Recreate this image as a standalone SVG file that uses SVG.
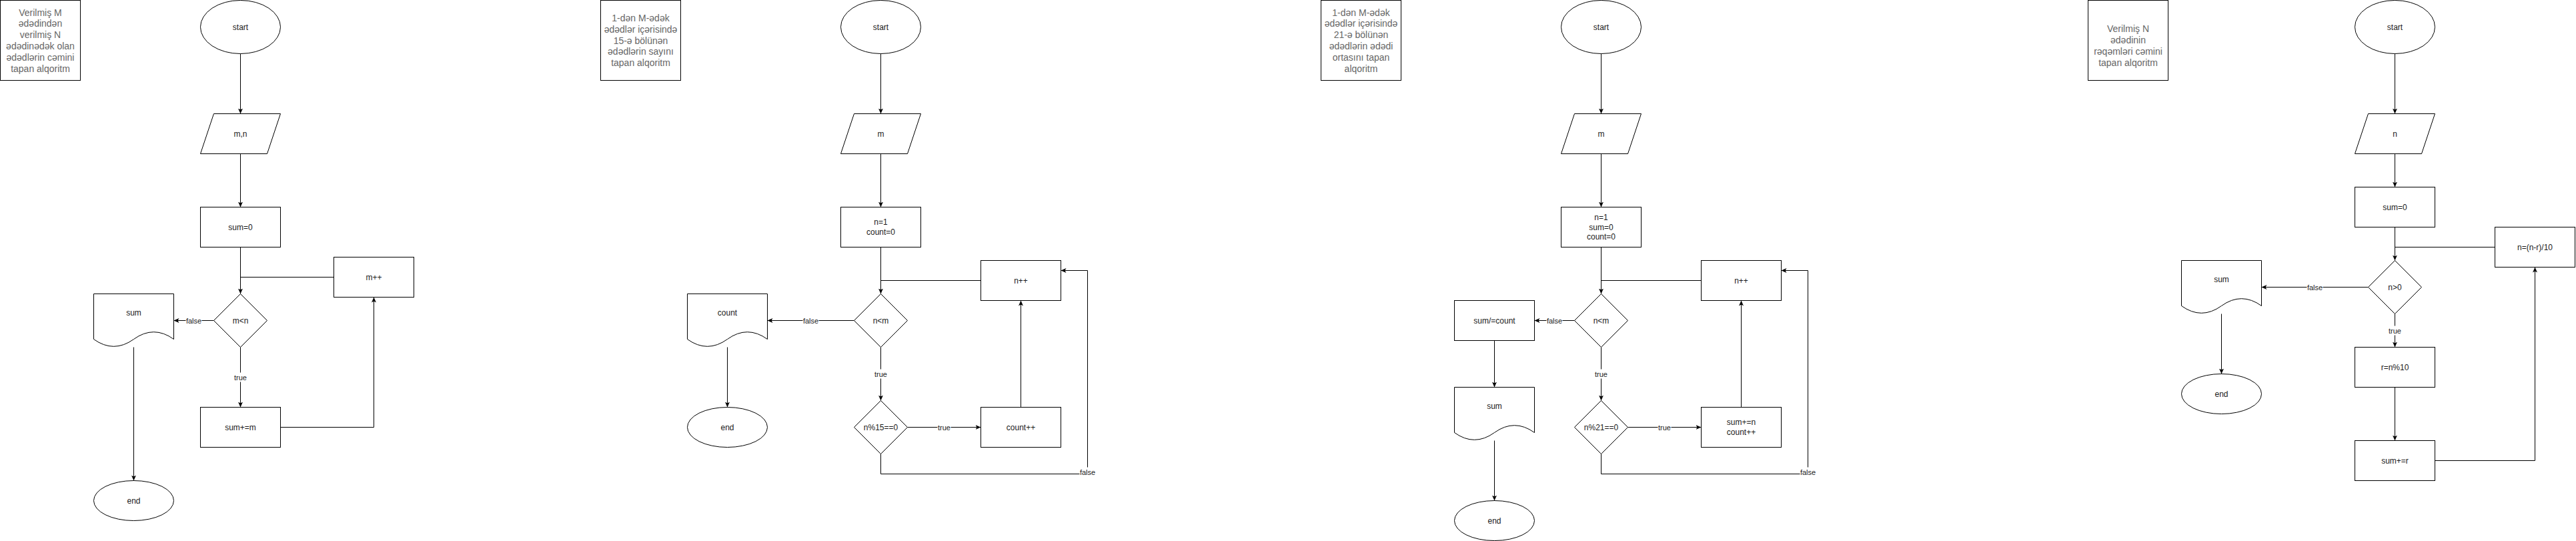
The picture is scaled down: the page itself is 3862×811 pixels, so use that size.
<svg xmlns="http://www.w3.org/2000/svg" width="3862" height="811" viewBox="0 0 3862 811">
<style>
.s{fill:#fff;stroke:#000;stroke-width:1}
.t{font-family:"Liberation Sans",Arial,sans-serif;font-size:12px;fill:#1a1a1a;text-anchor:middle;dominant-baseline:central}
.h{font-family:"Liberation Sans",Arial,sans-serif;font-size:14px;fill:#666;text-anchor:middle;dominant-baseline:central}
.c{fill:none;stroke:#000;stroke-width:1}
.a{marker-end:url(#ar)}
.lb{fill:#fff;stroke:none}
.l{font-family:"Liberation Sans",Arial,sans-serif;font-size:11px;fill:#1a1a1a;text-anchor:middle;dominant-baseline:central}
</style>
<defs>
<marker id="ar" markerUnits="userSpaceOnUse" viewBox="0 0 8 8" refX="8" refY="4" markerWidth="8" markerHeight="8" orient="auto">
<path d="M0,0.5 L8,4 L0,7.5 L2,4 Z" fill="#000"/>
</marker>
</defs>
<rect width="3862" height="811" fill="#fff"/>
<g transform="translate(0.5,0.5)">
<!-- Diagram 1 -->
<g id="title1"><rect class="s" x="0" y="0" width="120" height="120"/>
<text class="h" x="60" y="18">Verilmiş M</text><text class="h" x="60" y="34.8">ədədindən</text><text class="h" x="60" y="51.6">verilmiş N</text><text class="h" x="60" y="68.4">ədədinədək olan</text><text class="h" x="60" y="85.2">ədədlərin cəmini</text><text class="h" x="60" y="102">tapan alqoritm</text></g>
<g id="start1"><ellipse class="s" cx="360" cy="40" rx="60" ry="40"/><text class="t" x="360" y="40">start</text></g>
<g id="in1"><polygon class="s" points="320,170 420,170 400,230 300,230"/><text class="t" x="360" y="200">m,n</text></g>
<g id="init1"><rect class="s" x="300" y="310" width="120" height="60"/><text class="t" x="360" y="340">sum=0</text></g>
<g id="cond1"><polygon class="s" points="360,440 400,480 360,520 320,480"/><text class="t" x="360" y="480">m&lt;n</text></g>
<g id="inc1"><rect class="s" x="500" y="385" width="120" height="60"/><text class="t" x="560" y="415">m++</text></g>
<g id="out1"><path class="s" d="M140,440 H260 V508 Q230,486.4 200,508 Q170,529.6 140,508 Z"/><text class="t" x="200" y="468">sum</text></g>
<g id="body1"><rect class="s" x="300" y="610" width="120" height="60"/><text class="t" x="360" y="640">sum+=m</text></g>
<g id="end1"><ellipse class="s" cx="200" cy="750" rx="60" ry="30"/><text class="t" x="200" y="750">end</text></g>

<!-- Diagram 2 -->
<g id="title2"><rect class="s" x="900" y="0" width="120" height="120"/>
<text class="h" x="960" y="26.4">1-dən M-ədək</text><text class="h" x="960" y="43.2">ədədlər içərisində</text><text class="h" x="960" y="60">15-ə bölünən</text><text class="h" x="960" y="76.8">ədədlərin sayını</text><text class="h" x="960" y="93.6">tapan alqoritm</text></g>
<g id="start2"><ellipse class="s" cx="1320" cy="40" rx="60" ry="40"/><text class="t" x="1320" y="40">start</text></g>
<g id="in2"><polygon class="s" points="1280,170 1380,170 1360,230 1260,230"/><text class="t" x="1320" y="200">m</text></g>
<g id="init2"><rect class="s" x="1260" y="310" width="120" height="60"/><text class="t" x="1320" y="332.5">n=1</text><text class="t" x="1320" y="347.5">count=0</text></g>
<g id="cond2"><polygon class="s" points="1320,440 1360,480 1320,520 1280,480"/><text class="t" x="1320" y="480">n&lt;m</text></g>
<g id="inc2"><rect class="s" x="1470" y="390" width="120" height="60"/><text class="t" x="1530" y="420">n++</text></g>
<g id="out2"><path class="s" d="M1030,440 H1150 V508 Q1120,486.4 1090,508 Q1060,529.6 1030,508 Z"/><text class="t" x="1090" y="468">count</text></g>
<g id="end2"><ellipse class="s" cx="1090" cy="640" rx="60" ry="30"/><text class="t" x="1090" y="640">end</text></g>
<g id="cond2b"><polygon class="s" points="1320,600 1360,640 1320,680 1280,640"/><text class="t" x="1320" y="640">n%15==0</text></g>
<g id="body2"><rect class="s" x="1470" y="610" width="120" height="60"/><text class="t" x="1530" y="640">count++</text></g>

<!-- Diagram 3 -->
<g id="title3"><rect class="s" x="1980" y="0" width="120" height="120"/>
<text class="h" x="2040" y="18">1-dən M-ədək</text><text class="h" x="2040" y="34.8">ədədlər içərisində</text><text class="h" x="2040" y="51.6">21-ə bölünən</text><text class="h" x="2040" y="68.4">ədədlərin ədədi</text><text class="h" x="2040" y="85.2">ortasını tapan</text><text class="h" x="2040" y="102">alqoritm</text></g>
<g id="start3"><ellipse class="s" cx="2400" cy="40" rx="60" ry="40"/><text class="t" x="2400" y="40">start</text></g>
<g id="in3"><polygon class="s" points="2360,170 2460,170 2440,230 2340,230"/><text class="t" x="2400" y="200">m</text></g>
<g id="init3"><rect class="s" x="2340" y="310" width="120" height="60"/><text class="t" x="2400" y="325.3">n=1</text><text class="t" x="2400" y="340">sum=0</text><text class="t" x="2400" y="354.7">count=0</text></g>
<g id="cond3"><polygon class="s" points="2400,440 2440,480 2400,520 2360,480"/><text class="t" x="2400" y="480">n&lt;m</text></g>
<g id="inc3"><rect class="s" x="2550" y="390" width="120" height="60"/><text class="t" x="2610" y="420">n++</text></g>
<g id="calc3"><rect class="s" x="2180" y="450" width="120" height="60"/><text class="t" x="2240" y="480">sum/=count</text></g>
<g id="out3"><path class="s" d="M2180,580 H2300 V648 Q2270,626.4 2240,648 Q2210,669.6 2180,648 Z"/><text class="t" x="2240" y="608">sum</text></g>
<g id="end3"><ellipse class="s" cx="2240" cy="780" rx="60" ry="30"/><text class="t" x="2240" y="780">end</text></g>
<g id="cond3b"><polygon class="s" points="2400,600 2440,640 2400,680 2360,640"/><text class="t" x="2400" y="640">n%21==0</text></g>
<g id="body3"><rect class="s" x="2550" y="610" width="120" height="60"/><text class="t" x="2610" y="632.5">sum+=n</text><text class="t" x="2610" y="647.5">count++</text></g>

<!-- Diagram 4 -->
<g id="title4"><rect class="s" x="3130" y="0" width="120" height="120"/>
<text class="h" x="3190" y="42.8">Verilmiş N</text><text class="h" x="3190" y="59.6">ədədinin</text><text class="h" x="3190" y="76.4">rəqəmləri cəmini</text><text class="h" x="3190" y="93.2">tapan alqoritm</text></g>
<g id="start4"><ellipse class="s" cx="3590" cy="40" rx="60" ry="40"/><text class="t" x="3590" y="40">start</text></g>
<g id="in4"><polygon class="s" points="3550,170 3650,170 3630,230 3530,230"/><text class="t" x="3590" y="200">n</text></g>
<g id="init4"><rect class="s" x="3530" y="280" width="120" height="60"/><text class="t" x="3590" y="310">sum=0</text></g>
<g id="cond4"><polygon class="s" points="3590,390 3630,430 3590,470 3550,430"/><text class="t" x="3590" y="430">n&gt;0</text></g>
<g id="upd4"><rect class="s" x="3740" y="340" width="120" height="60"/><text class="t" x="3800" y="370">n=(n-r)/10</text></g>
<g id="out4"><path class="s" d="M3270,390 H3390 V458 Q3360,436.4 3330,458 Q3300,479.6 3270,458 Z"/><text class="t" x="3330" y="418">sum</text></g>
<g id="end4"><ellipse class="s" cx="3330" cy="590" rx="60" ry="30"/><text class="t" x="3330" y="590">end</text></g>
<g id="mod4"><rect class="s" x="3530" y="520" width="120" height="60"/><text class="t" x="3590" y="550">r=n%10</text></g>
<g id="add4"><rect class="s" x="3530" y="660" width="120" height="60"/><text class="t" x="3590" y="690">sum+=r</text></g>

<g id="connectors">
<!-- d1 -->
<path class="c a" d="M360,80 V170"/>
<path class="c a" d="M360,230 V310"/>
<path class="c a" d="M360,370 V440"/>
<path class="c" d="M500,415 H360"/>
<path class="c a" d="M320,480 H260"/>
<path class="c a" d="M360,520 V610"/>
<path class="c a" d="M420,640 H560 V445"/>
<path class="c a" d="M200,520 V720"/>
<!-- d2 -->
<path class="c a" d="M1320,80 V170"/>
<path class="c a" d="M1320,230 V310"/>
<path class="c a" d="M1320,370 V440"/>
<path class="c" d="M1470,420 H1320"/>
<path class="c a" d="M1280,480 H1150"/>
<path class="c a" d="M1090,520 V610"/>
<path class="c a" d="M1320,520 V600"/>
<path class="c a" d="M1360,640 H1470"/>
<path class="c a" d="M1530,610 V450"/>
<path class="c a" d="M1320,680 V710 H1630 V405 H1590"/>
<!-- d3 -->
<path class="c a" d="M2400,80 V170"/>
<path class="c a" d="M2400,230 V310"/>
<path class="c a" d="M2400,370 V440"/>
<path class="c" d="M2550,420 H2400"/>
<path class="c a" d="M2360,480 H2300"/>
<path class="c a" d="M2240,510 V580"/>
<path class="c a" d="M2240,660 V750"/>
<path class="c a" d="M2400,520 V600"/>
<path class="c a" d="M2440,640 H2550"/>
<path class="c a" d="M2610,610 V450"/>
<path class="c a" d="M2400,680 V710 H2710 V405 H2670"/>
<!-- d4 -->
<path class="c a" d="M3590,80 V170"/>
<path class="c a" d="M3590,230 V280"/>
<path class="c a" d="M3590,340 V390"/>
<path class="c" d="M3740,370 H3590"/>
<path class="c a" d="M3550,430 H3390"/>
<path class="c a" d="M3330,470 V560"/>
<path class="c a" d="M3590,470 V520"/>
<path class="c a" d="M3590,580 V660"/>
<path class="c a" d="M3650,690 H3800 V400"/>
<!-- labels -->
<rect class="lb" x="278" y="473" width="24" height="14"/><text class="l" x="290" y="480">false</text>
<rect class="lb" x="350" y="558" width="20" height="14"/><text class="l" x="360" y="565">true</text>
<rect class="lb" x="1203" y="473" width="24" height="14"/><text class="l" x="1215" y="480">false</text>
<rect class="lb" x="1310" y="553" width="20" height="14"/><text class="l" x="1320" y="560">true</text>
<rect class="lb" x="1405" y="633" width="20" height="14"/><text class="l" x="1415" y="640">true</text>
<rect class="lb" x="1618" y="700" width="24" height="14"/><text class="l" x="1630" y="707">false</text>
<rect class="lb" x="2318" y="473" width="24" height="14"/><text class="l" x="2330" y="480">false</text>
<rect class="lb" x="2390" y="553" width="20" height="14"/><text class="l" x="2400" y="560">true</text>
<rect class="lb" x="2485" y="633" width="20" height="14"/><text class="l" x="2495" y="640">true</text>
<rect class="lb" x="2698" y="700" width="24" height="14"/><text class="l" x="2710" y="707">false</text>
<rect class="lb" x="3458" y="423" width="24" height="14"/><text class="l" x="3470" y="430">false</text>
<rect class="lb" x="3580" y="488" width="20" height="14"/><text class="l" x="3590" y="495">true</text>
</g>
</g>
</svg>
